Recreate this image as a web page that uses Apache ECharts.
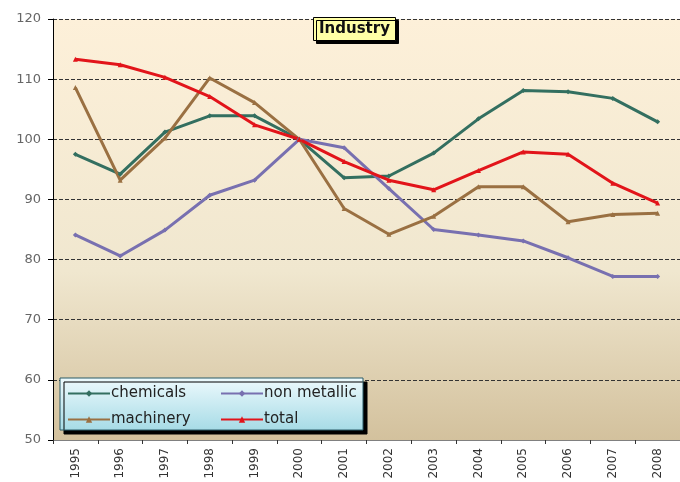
<!DOCTYPE html>
<html>
<head>
<meta charset="utf-8">
<script src="https://cdn.jsdelivr.net/npm/echarts@6/dist/echarts.min.js"></script>
<style>
  html, body { margin: 0; padding: 0; background: #fff; }
  #chart { width: 680px; height: 482px; }
</style>
</head>
<body>
<div id="chart"></div>
<script>
const years = ["1995", "1996", "1997", "1998", "1999", "2000", "2001", "2002", "2003", "2004", "2005", "2006", "2007", "2008"];
const chemicals = [97.5, 94.2, 101.2, 103.9, 103.9, 100, 93.6, 93.9, 97.7, 103.4, 108.1, 107.9, 106.8, 102.9];
const nonMetallic = [84.1, 80.6, 84.9, 90.7, 93.2, 100, 98.6, 91.8, 85.0, 84.1, 83.1, 80.3, 77.2, 77.2];
const machinery = [108.6, 93.2, 100.2, 110.2, 106.1, 100, 88.5, 84.2, 87.2, 92.1, 92.1, 86.3, 87.5, 87.7];
const total = [113.3, 112.4, 110.3, 107.1, 102.4, 100, 96.3, 93.2, 91.6, 94.8, 97.9, 97.5, 92.7, 89.4];

const chart = echarts.init(document.getElementById("chart"));

function lineSeries(name, data, color, symbol) {
  return {
    name: name,
    type: "line",
    data: data,
    symbol: symbol,
    symbolSize: 5,
    showSymbol: true,
    lineStyle: { color: color, width: 3 },
    itemStyle: { color: color },
    emphasis: { disabled: true }
  };
}

function legendAt(name, left, top) {
  return {
    data: [name],
    left: left,
    top: top,
    itemWidth: 42,
    itemHeight: 8,
    itemGap: 0,
    padding: 0,
    textStyle: { fontFamily: "DejaVu Sans", fontSize: 15, color: "#222", padding: [0, 0, 0, -4] }
  };
}

const option = {
  animation: false,
  title: {
    text: "Industry",
    left: 313,
    top: 17,
    padding: [5, 6, 4, 6],
    backgroundColor: "#ffffa6",
    borderColor: "#000",
    borderWidth: 1,
    shadowColor: "#000",
    shadowOffsetX: 3,
    shadowOffsetY: 3,
    shadowBlur: 0,
    textStyle: { fontFamily: "DejaVu Sans", fontSize: 15, fontWeight: "bold", color: "#111" }
  },
  graphic: [
    {
      type: "rect",
      z: 3,
      shape: { x: 60, y: 378, width: 303, height: 52 },
      style: {
        fill: {
          type: "linear", x: 0, y: 0, x2: 0, y2: 1,
          colorStops: [
            { offset: 0, color: "#eefafd" },
            { offset: 1, color: "#a6dbe6" }
          ]
        },
        stroke: "#2a5a66",
        lineWidth: 1,
        shadowColor: "#000",
        shadowOffsetX: 4,
        shadowOffsetY: 4,
        shadowBlur: 0
      }
    }
  ],
  legend: [
    legendAt("chemicals", 67, 386),
    legendAt("non metallic", 220, 386),
    legendAt("machinery", 67, 412),
    legendAt("total", 220, 412)
  ],
  grid: {
    left: 53,
    right: 0,
    top: 19,
    bottom: 42,
    show: true,
    borderWidth: 0,
    backgroundColor: {
      type: "linear", x: 0, y: 0, x2: 0, y2: 1,
      colorStops: [
        { offset: 0, color: "#fdf0d9" },
        { offset: 0.6, color: "#f0e7cf" },
        { offset: 1, color: "#d3c19d" }
      ]
    }
  },
  xAxis: {
    type: "category",
    data: years,
    boundaryGap: true,
    axisLine: { lineStyle: { color: "#808080", width: 1 } },
    axisTick: { show: true, alignWithLabel: false, length: 4, lineStyle: { color: "#333" } },
    axisLabel: { rotate: 90, fontFamily: "DejaVu Sans", fontSize: 12, color: "#333", margin: 8 }
  },
  yAxis: {
    type: "value",
    min: 50,
    max: 120,
    interval: 10,
    axisLine: { show: true, lineStyle: { color: "#000", width: 1 } },
    axisTick: { show: true, length: 5, lineStyle: { color: "#000" } },
    axisLabel: { fontFamily: "DejaVu Sans", fontSize: 13, color: "#666", margin: 12 },
    splitLine: { show: true, lineStyle: { color: "#333", type: [4, 2], width: 1 } }
  },
  series: [
    lineSeries("chemicals", chemicals, "#336f60", "diamond"),
    lineSeries("non metallic", nonMetallic, "#7870b0", "diamond"),
    lineSeries("machinery", machinery, "#9a7042", "triangle"),
    lineSeries("total", total, "#e2141a", "triangle")
  ]
};

chart.setOption(option);
</script>
</body>
</html>
